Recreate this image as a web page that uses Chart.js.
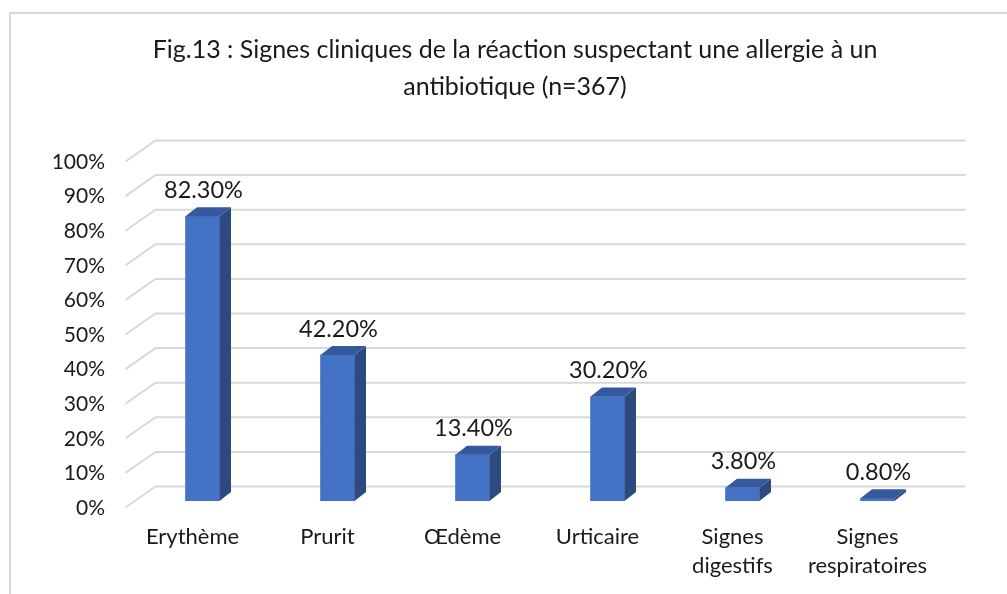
<!DOCTYPE html>
<html>
<head>
<meta charset="utf-8">
<script src="https://cdn.jsdelivr.net/npm/chart.js@4.4.1/dist/chart.umd.min.js"></script>
<style>
    body { margin: 0; background: #fff; }
    #wrap { width: 1007px; height: 594px; }
</style>
</head>
<body>
<div id="wrap"><canvas id="grafik" width="1007" height="594"></canvas></div>
<script>
const categories = ["Erythème", "Prurit", "Œdème", "Urticaire", ["Signes", "digestifs"], ["Signes", "respiratoires"]];
const values = [0.823, 0.422, 0.134, 0.302, 0.038, 0.008];
const titleLines = ["Fig.13 : Signes cliniques de la réaction suspectant une allergie à un", "antibiotique (n=367)"];

const FONT = "Lato";
const TEXT = "#1a1a1a";
const GRID = "#d9d9d9";
// depth of the fake 3d floor / bars
const backDx = 20.5, backDy = -14.5, frontDx = -9.5, frontDy = 6.5;
const barDx = 11.5, barDy = -9;

const fake3d = {
    id: "fake3d",
    beforeDraw(chart) {
        const ctx = chart.ctx;
        ctx.save();
        ctx.strokeStyle = GRID;
        ctx.lineWidth = 2;
        ctx.strokeRect(10, 13, 1100, 700);
        // title (centered on the frame, not on the plot)
        ctx.fillStyle = TEXT;
        ctx.font = "25px " + FONT;
        ctx.textAlign = "center";
        ctx.textBaseline = "middle";
        titleLines.forEach((line, i) => ctx.fillText(line, 515, 50 + i * 37));
        ctx.restore();
    },
    beforeDatasetsDraw(chart) {
        const ctx = chart.ctx;
        const y = chart.scales.y;
        const area = chart.chartArea;
        ctx.save();
        ctx.strokeStyle = GRID;
        ctx.lineWidth = 2;
        y.ticks.forEach((t) => {
            const py = y.getPixelForValue(t.value);
            ctx.beginPath();
            ctx.moveTo(area.left + frontDx, py + frontDy);
            ctx.lineTo(area.left + backDx, py + backDy);
            ctx.lineTo(area.right + backDx, py + backDy);
            ctx.stroke();
        });
        ctx.restore();
    },
    afterDatasetsDraw(chart) {
        const ctx = chart.ctx;
        const meta = chart.getDatasetMeta(0);
        ctx.save();
        meta.data.forEach((bar, i) => {
            const x0 = bar.x - bar.width / 2;
            const x1 = bar.x + bar.width / 2;
            const yt = bar.y;
            const yb = bar.base;
            // side
            ctx.fillStyle = "#2c4a80";
            ctx.beginPath();
            ctx.moveTo(x1, yt);
            ctx.lineTo(x1 + barDx, yt + barDy);
            ctx.lineTo(x1 + barDx, yb + barDy);
            ctx.lineTo(x1, yb);
            ctx.closePath();
            ctx.fill();
            // top
            ctx.fillStyle = "#35599c";
            ctx.beginPath();
            ctx.moveTo(x0, yt);
            ctx.lineTo(x0 + barDx, yt + barDy);
            ctx.lineTo(x1 + barDx, yt + barDy);
            ctx.lineTo(x1, yt);
            ctx.closePath();
            ctx.fill();
            // value label
            ctx.fillStyle = TEXT;
            ctx.font = "23.5px " + FONT;
            ctx.textAlign = "center";
            ctx.textBaseline = "middle";
            ctx.fillText((values[i] * 100).toFixed(2) + "%", bar.x + 1, yt - 26);
        });
        ctx.restore();
    },
};

new Chart(document.getElementById("grafik"), {
    type: "bar",
    data: {
        labels: categories,
        datasets: [
            {
                data: values,
                backgroundColor: "#4472c4",
                barThickness: 34,
            },
        ],
    },
    options: {
        responsive: false,
        animation: false,
        layout: { padding: { top: 155, left: 15, right: 62, bottom: 8 } },
        plugins: {
            legend: { display: false },
            tooltip: { enabled: false },
            title: { display: false },
        },
        scales: {
            x: {
                grid: { display: false },
                border: { display: false },
                ticks: {
                    color: TEXT,
                    font: { family: FONT, size: 22, lineHeight: 1.3 },
                    padding: 14,
                    labelOffset: -10,
                    maxRotation: 0,
                    autoSkip: false,
                },
                afterFit(scale) { scale.height = 85; },
            },
            y: {
                min: 0,
                max: 1,
                grid: { display: false },
                border: { display: false },
                ticks: {
                    stepSize: 0.1,
                    color: TEXT,
                    font: { family: FONT, size: 21 },
                    padding: 22,
                    labelOffset: 7,
                    callback: (v) => Math.round(v * 100) + "%",
                },
                afterFit(scale) { scale.width = 120; },
            },
        },
    },
    plugins: [fake3d],
});
</script>
</body>
</html>
